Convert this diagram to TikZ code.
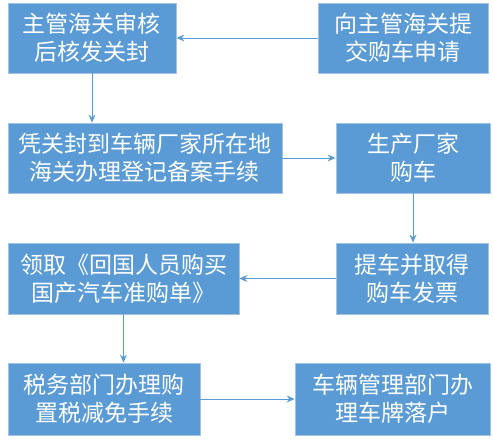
\documentclass[tikz,border=0pt]{standalone}
\usepackage{fontspec}
\setmainfont{Noto Sans CJK SC}
\usepackage{tikz}
\usetikzlibrary{arrows.meta,positioning}
\definecolor{boxblue}{RGB}{91,155,213}
\definecolor{boxedge}{RGB}{165,194,228}
\definecolor{linkblue}{RGB}{91,155,213}
\tikzset
{
  stepbox/.style = {rectangle, fill=boxblue, draw=boxedge, line width=0.8pt, align=center, text=white, inner sep=0pt, minimum height=70pt, font=\fontsize{23pt}{28pt}\selectfont},
  link/.style    = {-{Stealth[length=8pt,width=7pt]}, draw=linkblue, line width=0.8pt}
}

\begin{document}
\begin{tikzpicture}[x=1pt,y=-1pt]
            \useasboundingbox (0,0) rectangle (493,443);
            \node [stepbox, minimum width=168pt] (audit)   at (92,38)    {主管海关审核\\后核发关封};
            \node [stepbox, minimum width=170pt] (apply)   at (403,38)   {向主管海关提\\交购车申请};
            \node [stepbox, minimum width=274pt] (record)  at (145,158)  {凭关封到车辆厂家所在地\\海关办理登记备案手续};
            \node [stepbox, minimum width=154pt] (factory) at (413,158)  {生产厂家\\购车};
            \node [stepbox, minimum width=152pt, minimum height=71pt] (invoice) at (412,278.5) {提车并取得\\购车发票};
            \node [stepbox, minimum width=231pt, minimum height=71pt] (permit)  at (123.5,278.5) {领取《回国人员购买\\国产汽车准购单》};
            \node [stepbox, minimum width=192pt, minimum height=72pt] (tax)     at (104,399) {税务部门办理购\\置税减免手续};
            \node [stepbox, minimum width=195pt, minimum height=72pt] (plate)   at (392.5,399) {车辆管理部门办\\理车牌落户};
            % connectors
            \draw [link] (apply) -- (audit);
            \draw [link] (audit) -- (audit |- record.north);
            \draw [link] (record) -- (factory);
            \draw [link] (factory) -- (factory |- invoice.north);
            \draw [link] (invoice) -- (permit);
            \draw [link] (permit) -- (permit |- tax.north);
            \draw [link] (tax) -- (plate);
\end{tikzpicture}
\end{document}
